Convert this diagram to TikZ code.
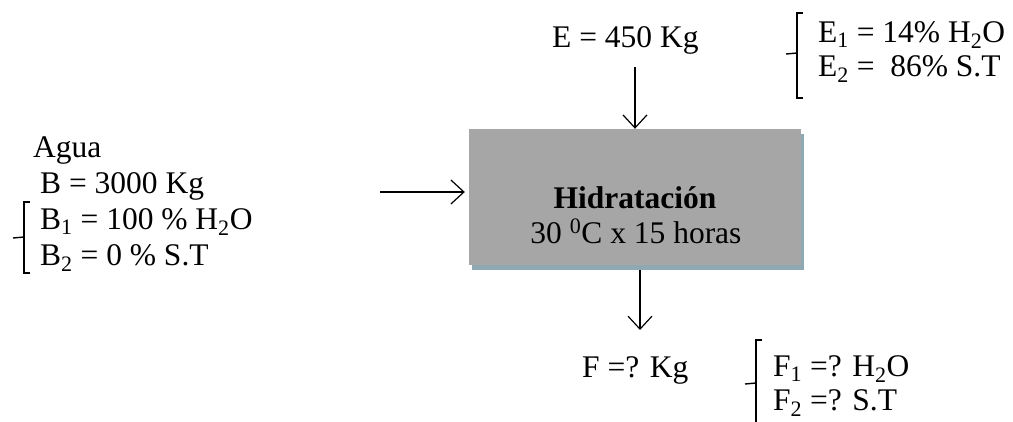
\documentclass[tikz,border=0pt]{standalone}
\usepackage{fontspec}
\setmainfont{Liberation Serif}
\usetikzlibrary{arrows.meta}
\definecolor{boxgray}{HTML}{A6A6A6}
\definecolor{shadowblue}{HTML}{8EA9B3}
\newcommand\fsz{\fontsize{31.5}{36}\selectfont}
\tikzset{
  lbl/.style={anchor=base west,inner sep=0pt,font=\fsz},
  ctr/.style={anchor=base,inner sep=0pt,font=\fsz},
  arr/.style={line width=1.2pt,-{Straight Barb[length=13pt,width=24pt,line width=1.2pt]}},
  brc/.style={line width=1.4pt}
}
\begin{document}
\begin{tikzpicture}[x=1pt,y=-1pt]
\useasboundingbox (0,0) rectangle (1013,421);
% process box with shadow
\node[fill=shadowblue,minimum width=332pt,minimum height=136pt,inner sep=0pt] (shadow) at (638,202) {};
\node[fill=boxgray,minimum width=332pt,minimum height=136pt,inner sep=0pt] (box) at (635,197) {};
\node[ctr] (t1) at (635,208) {\bfseries Hidrataci\'on};
\node[ctr] (t2) at (636,243) {30 \textsuperscript{0}C x 15 horas};
% input E
\node[lbl] (E) at (552,47) {E = 450 Kg};
\node[lbl] (E1) at (818,42) {E\textsubscript{1} = 14\% H\textsubscript{2}O};
\node[lbl] (E2) at (818,76) {E\textsubscript{2} = \ 86\% S.T};
\coordinate (etop) at (635,67);
\draw[arr] (etop) -- (box.north);
\draw[brc] (803,13) -- (797,13) -- (797,98) -- (803,98);
\draw[brc] (797,53) -- (786,54);
% input B
\node[lbl] (Ag) at (33,157) {Agua};
\node[lbl] (B) at (40,193) {B = 3000 Kg};
\node[lbl] (B1) at (40,229) {B\textsubscript{1} = 100 \% H\textsubscript{2}O};
\node[lbl] (B2) at (40,265) {B\textsubscript{2} = 0 \% S.T};
\coordinate (bin) at (380,192);
\draw[arr,shorten >=4pt] (bin) -- (bin -| box.west);
\draw[brc] (30,202) -- (24,202) -- (24,273) -- (30,273);
\draw[brc] (24,237) -- (13,238);
% output F
\coordinate (fend) at (640,330);
\draw[arr] (fend |- shadow.south) -- (fend);
\node[lbl] (F) at (582,377) {F =? Kg};
\node[lbl] (F1) at (773,376) {F\textsubscript{1} =? H\textsubscript{2}O};
\node[lbl] (F2) at (773,410) {F\textsubscript{2} =? S.T};
\draw[brc] (762,340) -- (756,340) -- (756,425);
\draw[brc] (756,383) -- (745,384);
\end{tikzpicture}
\end{document}
